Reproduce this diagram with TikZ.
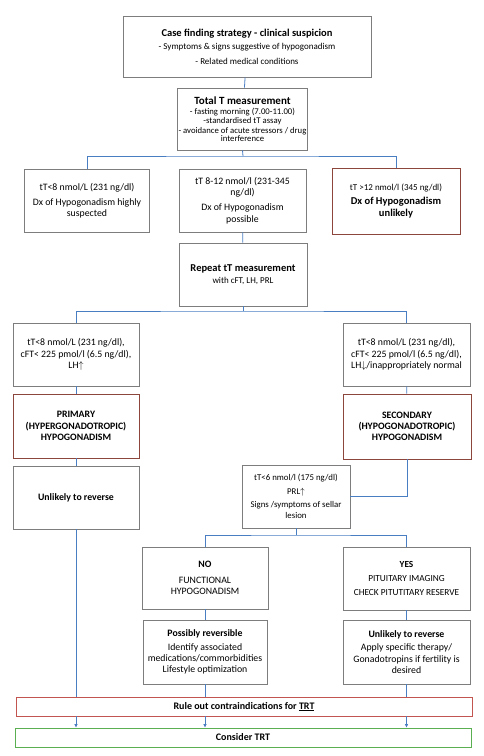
\documentclass[tikz,border=0pt]{standalone}
\usepackage{fontspec}
\setmainfont{Carlito}
\usetikzlibrary{arrows.meta}
\definecolor{conn}{RGB}{74,126,195}
\definecolor{graybd}{RGB}{125,125,125}
\definecolor{brownbd}{RGB}{140,70,60}
\definecolor{redbd}{RGB}{195,85,80}
\definecolor{greenbd}{RGB}{90,175,80}
\newcommand{\fs}[2]{\fontsize{#1}{#2}\selectfont}
\begin{document}
\begin{tikzpicture}[x=1pt,y=-1pt,
  box/.style={draw=graybd, line width=0.8pt, align=center, inner sep=1pt, font=\fs{9.8}{11.2}},
  brownbox/.style={box, draw=brownbd},
  redbox/.style={box, draw=redbd},
  greenbox/.style={box, draw=greenbd},
  conn/.style={draw=conn, line width=0.8pt},
  arr/.style={conn, -{Latex[length=3.5pt,width=3.5pt]}}]
\useasboundingbox (0,0) rectangle (483,756);
\fill[white] (0,0) rectangle (483,756);

\node[box, minimum width=248, minimum height=61, font=\fs{9}{10.5}] (case) at (247,46.5)
  {{\fs{10.5}{12}\textbf{Case finding strategy - clinical suspicion}}\\[3pt]
   - Symptoms \& signs suggestive of hypogonadism\\[4pt]
   - Related medical conditions};
\node[box, minimum width=125, minimum height=62, font=\fs{8.7}{9.4}] (tot) at (242.5,119)
  {{\fs{11}{12}\textbf{Total T measurement}}\\[1pt]
   - fasting morning (7.00-11.00)\\
   -standardised tT assay\\
   - avoidance of acute stressors / drug\\[-1pt]
   interference};

\node[box, minimum width=125, minimum height=63] (l1) at (87,200.5)
  {tT<8 nmol/L (231 ng/dl)\\[4pt] Dx of Hypogonadism highly\\ suspected};
\node[box, minimum width=127, minimum height=63] (m1) at (242.5,200.5)
  {tT 8-12 nmol/l (231-345\\ ng/dl)\\[4pt] Dx of Hypogonadism\\ possible};
\node[brownbox, minimum width=128, minimum height=66] (r1) at (396,201)
  {{\fs{9}{10.5}tT >12 nmol/l (345 ng/dl)}\\[3pt] {\fs{10.5}{11.5}\textbf{Dx of Hypogonadism}}\\ {\fs{10.5}{11.5}\textbf{unlikely}}};

\node[box, minimum width=128, minimum height=63] (rep) at (243,274.5)
  {{\fs{10.5}{12}\textbf{Repeat tT measurement}}\\[1pt] {\fs{9}{10}with cFT, LH, PRL}};

\node[box, minimum width=126, minimum height=63] (l2) at (76,354.5)
  {tT<8 nmol/L (231 ng/dl),\\ cFT< 225 pmol/l (6.5 ng/dl),\\ LH$\uparrow$};
\node[box, minimum width=127, minimum height=63] (r2) at (406.5,354.5)
  {tT<8 nmol/L (231 ng/dl),\\ cFT< 225 pmol/l (6.5 ng/dl),\\ LH$\downarrow$/inappropriately normal};

\node[brownbox, minimum width=126, minimum height=64] (prim) at (76,426)
  {\textbf{PRIMARY}\\ \textbf{(HYPERGONADOTROPIC)}\\ \textbf{HYPOGONADISM}};
\node[brownbox, minimum width=128, minimum height=65] (sec) at (407,426.5)
  {\textbf{SECONDARY}\\ \textbf{(HYPOGONADOTROPIC)}\\ \textbf{HYPOGONADISM}};

\node[box, minimum width=126, minimum height=63] (unl1) at (76,497.5)
  {\textbf{Unlikely to reverse}};
\node[box, minimum width=108, minimum height=63, font=\fs{8.8}{10.5}] (t6) at (296,496.5)
  {tT<6 nmol/l (175 ng/dl)\\[3pt] PRL$\uparrow$\\[3pt] Signs /symptoms of sellar\\ lesion};

\node[box, minimum width=126, minimum height=62] (no) at (205,578)
  {\textbf{NO}\\[4pt] FUNCTIONAL\\ HYPOGONADISM};
\node[box, minimum width=127, minimum height=63, font=\fs{9.3}{11}] (yes) at (406.5,578.5)
  {\textbf{YES}\\[3pt] PITUITARY IMAGING\\[3pt] CHECK PITUTITARY RESERVE};

\node[box, minimum width=124, minimum height=64] (pos) at (205,652)
  {\textbf{Possibly reversible}\\[2pt] Identify associated\\ medications/commorbidities\\ Lifestyle optimization};
\node[box, minimum width=127, minimum height=64] (unl2) at (406.5,652)
  {\textbf{Unlikely to reverse}\\[2pt] Apply specific therapy/\\ Gonadotropins if fertility is\\ desired};

\node[redbox, minimum width=456, minimum height=19, font=\fs{10}{11}] (rule) at (244,706.5)
  {\textbf{Rule out contraindications for \underline{TRT}}};
\node[greenbox, minimum width=456, minimum height=19, font=\fs{10}{11}] (cons) at (243,737.5)
  {\textbf{Consider TRT}};

% connectors
\coordinate (h1) at (243,156);
\coordinate (h2) at (243,311);
\coordinate (h3) at (296,535);
\draw[conn] (case) -- (tot);
\draw[conn] (tot.south) -- (h1);
\draw[conn] (l1.north) |- (h1) -| (r1.north);
\draw[conn] (m1) -- (rep);
\draw[conn] (rep.south) -- (h2);
\draw[conn] (l2.north) |- (h2) -| (r2.north);
\draw[conn] (l2) -- (prim);
\draw[conn] (r2) -- (sec);
\draw[conn] (prim) -- (unl1);
\draw[conn] (sec.south) |- (t6.east);
\draw[conn] (t6.south) -- (h3);
\draw[conn] (no.north) |- (h3) -| (yes.north);
\draw[conn] (no) -- (pos);
\draw[conn] (yes) -- (unl2);
\draw[conn] (unl1.south) -- (unl1.south |- rule.north);
\draw[conn] (pos.south) -- (pos.south |- rule.north);
\draw[conn] (unl2.south) -- (unl2.south |- rule.north);
\draw[arr] (unl1.south |- rule.south) -- (unl1.south |- cons.north);
\draw[arr] (pos.south |- rule.south) -- (pos.south |- cons.north);
\draw[arr] (unl2.south |- rule.south) -- (unl2.south |- cons.north);
\end{tikzpicture}
\end{document}
